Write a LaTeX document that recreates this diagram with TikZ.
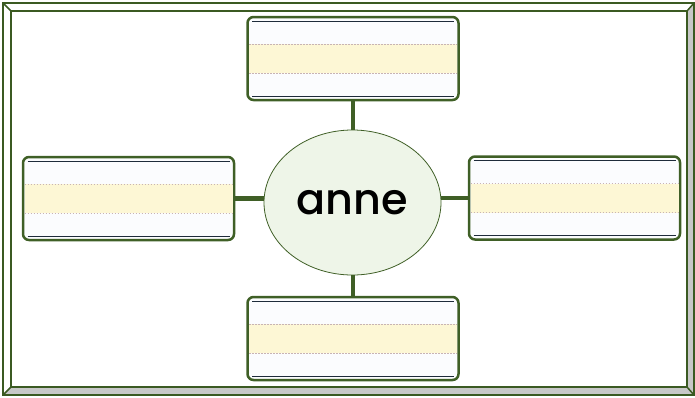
\documentclass[tikz,border=0pt]{standalone}
\usepackage{fontspec}
\newfontfamily\geofont{Poppins}[UprightFont={* Medium}]
\usetikzlibrary{shapes.geometric,calc}
\definecolor{frameg}{HTML}{3B5A22}
\definecolor{boxg}{HTML}{3F5F26}
\definecolor{ellfill}{HTML}{EEF5E8}
\definecolor{bandy}{HTML}{FDF7D5}
\definecolor{dotc}{HTML}{C8B4B4}
\definecolor{navy}{HTML}{1E2B3A}
\definecolor{bevel}{HTML}{C8C8C8}
\definecolor{boxbg}{HTML}{FBFCFE}
\tikzset{
  wbox/.style={draw=boxg, line width=2.5pt, rounded corners=6pt, fill=boxbg,
    minimum width=211pt, minimum height=83pt, inner sep=0pt},
  conn/.style={draw=boxg, line width=4.5pt},
  dotl/.style={draw=dotc, line width=1pt, dash pattern=on 1.5pt off 1.5pt},
  navyl/.style={draw=navy, line width=1pt},
  framel/.style={draw=frameg, line width=2.5pt}
}
\newcommand\wbox[3]{%
  \node[wbox] (#1) at (#2,#3) {};
  \fill[bandy] ({#2-104},{#3-14.5}) rectangle ({#2+104},{#3+14.5});
  \draw[dotl] ({#2-104},{#3-14.5}) -- ({#2+104},{#3-14.5});
  \draw[dotl] ({#2-104},{#3+14.5}) -- ({#2+104},{#3+14.5});
  \draw[navyl] ({#2-101},{#3-37.5}) -- ({#2+101},{#3-37.5});
  \draw[navyl] ({#2-101},{#3+37.5}) -- ({#2+101},{#3+37.5});
}
\begin{document}
\begin{tikzpicture}[x=1pt,y=-1pt]
\useasboundingbox (0,0) rectangle (695,397);
% frame bevel
\fill[bevel] (3,395) -- (694,395) -- (687,387) -- (11,387) -- cycle;
\fill[bevel] (694,3) -- (694,395) -- (687,387) -- (687,11) -- cycle;
\draw[framel] (3,3) rectangle (694,395);
\draw[framel] (11,11) rectangle (687,387);
\draw[frameg, line width=1.5pt] (3,3) -- (11,11) (694,3) -- (687,11) (3,395) -- (11,387) (694,395) -- (687,387);
% boxes
\wbox{top}{353}{58.5}
\wbox{left}{128.5}{198.5}
\wbox{right}{574.5}{198}
\wbox{bottom}{353}{338.5}
% center
\node[ellipse, draw=boxg, line width=0.8pt, fill=ellfill, minimum width=177pt, minimum height=145pt, inner sep=0pt] (c) at (352.5,202.5) {\geofont\fontsize{43}{43}\selectfont anne};
% connectors
\draw[conn] (top.south) -- (top.south |- c.north);
\draw[conn] (bottom.north) -- (bottom.north |- c.south);
\draw[conn] (left.east) -- (left.east -| c.west);
\draw[conn] (right.west) -- (right.west -| c.east);
\end{tikzpicture}
\end{document}
